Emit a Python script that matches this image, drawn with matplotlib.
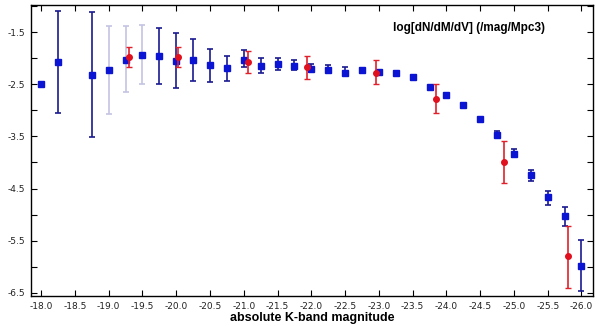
import numpy as np
import matplotlib.pyplot as plt
from matplotlib.ticker import FixedLocator, FormatStrFormatter

# blue points: magnitude, value, error bar low/high (nan = no bar)
mag_b = [-18.0, -18.25, -18.75, -19.0, -19.25, -19.5, -19.75, -20.0, -20.25,
         -20.5, -20.75, -21.0, -21.25, -21.5, -21.75, -22.0, -22.25, -22.5,
         -22.75, -23.0, -23.25, -23.5, -23.75, -24.0, -24.25, -24.5, -24.75,
         -25.0, -25.25, -25.5, -25.75, -26.0]
val_b = [-2.50, -2.07, -2.32, -2.23, -2.03, -1.94, -1.96, -2.06, -2.04,
         -2.14, -2.19, -2.03, -2.15, -2.12, -2.15, -2.21, -2.22, -2.28,
         -2.22, -2.26, -2.28, -2.36, -2.56, -2.71, -2.90, -3.17, -3.47,
         -3.83, -4.24, -4.67, -5.03, -5.98]
lo_b = [np.nan, -3.06, -3.51, -3.07, -2.65, -2.50, -2.50, -2.58, -2.44,
        -2.46, -2.44, -2.17, -2.29, -2.23, -2.23, -2.27, -2.27, -2.32,
        -2.25, -2.29, np.nan, np.nan, np.nan, np.nan, np.nan, np.nan, -3.51,
        -3.90, -4.35, -4.81, -5.21, -6.46]
hi_b = [np.nan, -1.09, -1.12, -1.38, -1.38, -1.36, -1.42, -1.52, -1.63,
        -1.83, -1.96, -1.85, -2.00, -2.00, -2.04, -2.12, -2.13, -2.17,
        -2.19, -2.23, np.nan, np.nan, np.nan, np.nan, np.nan, np.nan, -3.40,
        -3.75, -4.14, -4.54, -4.85, -5.48]
# bars drawn faint in the reference
faint_b = [-19.0, -19.25, -19.5]

# red points
mag_r = [-19.30, -20.03, -21.06, -21.93, -22.96, -23.85, -24.85, -25.80]
val_r = [-1.975, -1.975, -2.08, -2.18, -2.28, -2.78, -4.00, -5.80]
lo_r = [-2.17, -2.17, -2.29, -2.40, -2.50, -3.06, -4.39, -6.40]
hi_r = [-1.79, -1.79, -1.87, -1.96, -2.04, -2.50, -3.59, -5.22]

fig = plt.figure(figsize=(6, 3.26), dpi=100)
ax = fig.add_axes([0.0517, 0.092, 0.9366, 0.893])

for m, v, lo, hi in zip(mag_b, val_b, lo_b, hi_b):
    if not np.isnan(lo):
        ecol = '#c4c4e4' if m in faint_b else '#1a1a90'
        _, caps, _ = ax.errorbar(m, v, yerr=[[v - lo], [hi - v]], fmt='none',
                                 ecolor=ecol, elinewidth=1.2, capsize=2.5, capthick=1.2)
        for c in caps:
            c.set_color('#1a1a90' if m != -19.0 else '#9090c0')
ax.plot(mag_b, val_b, 's', color='#0a14d2', ms=5, zorder=3)

for m, v, lo, hi in zip(mag_r, val_r, lo_r, hi_r):
    ax.errorbar(m, v, yerr=[[v - lo], [hi - v]], fmt='none', ecolor='#e0202a',
                elinewidth=1.2, capsize=2.5, capthick=1.0, zorder=4)
ax.plot(mag_r, val_r, 'o', color='#e0101e', ms=4, zorder=5)

ax.set_xlim(-17.85, -26.17)
ax.set_ylim(-6.56, -0.98)

ax.xaxis.set_major_locator(FixedLocator(np.arange(-18.0, -26.01, -0.5)))
ax.xaxis.set_major_formatter(FormatStrFormatter('%.1f'))
ax.yaxis.set_major_locator(FixedLocator([-1.5, -2.5, -3.5, -4.5, -5.5, -6.5]))
ax.yaxis.set_minor_locator(FixedLocator([-1.0, -2.0, -3.0, -4.0, -5.0, -6.0]))
ax.yaxis.set_major_formatter(FormatStrFormatter('%.1f'))
ax.tick_params(which='both', direction='in', top=True, right=True,
               labelsize=6.5, pad=4, length=4, width=0.8, labelcolor='#222222')
for s in ax.spines.values():
    s.set_linewidth(1.0)

ax.text(0.915, 0.92, 'log[dN/dM/dV] (/mag/Mpc3)', transform=ax.transAxes,
        ha='right', va='center', fontsize=8.5, fontweight='bold',
        family='Liberation Sans')
ax.set_xlabel('absolute K-band magnitude', fontsize=9, fontweight='bold',
              family='Liberation Sans', labelpad=1)

fig.savefig('out.png', dpi=100)
